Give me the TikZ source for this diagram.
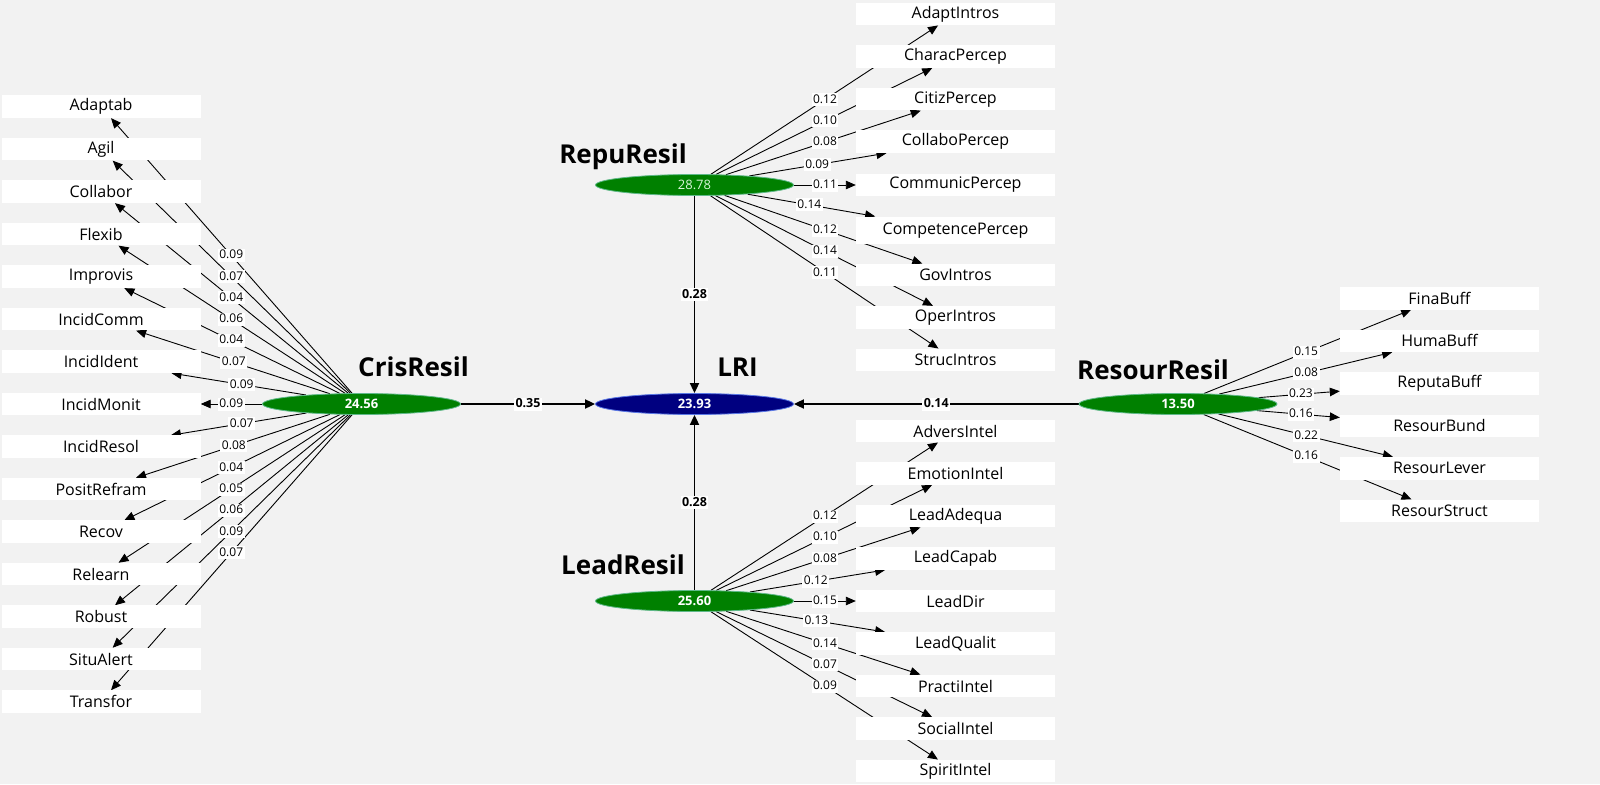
\documentclass[tikz,border=0pt]{standalone}
\usepackage{fontspec}
\setmainfont{Open Sans}
\usetikzlibrary{arrows.meta,calc,shapes.geometric}
\pgfdeclarelayer{bg}
\pgfdeclarelayer{edges}
\pgfsetlayers{bg,edges,main}
\definecolor{bgc}{HTML}{F2F2F2}
\definecolor{lvgreen}{HTML}{008000}
\definecolor{lvgreenedge}{HTML}{5FB98A}
\definecolor{lvnavy}{HTML}{000080}
\definecolor{lvnavyedge}{HTML}{5A78E6}
\definecolor{palegreen}{HTML}{D8F5D8}
\tikzset{
  ind/.style={rectangle,fill=white,minimum width=199pt,minimum height=22.5pt,inner sep=0pt,
    font=\fontsize{16}{18}\selectfont},
  lv/.style={ellipse,fill=lvgreen,draw=lvgreenedge,line width=0.8pt,minimum width=198pt,
    minimum height=21pt,inner sep=0pt,text=white,font=\fontsize{13}{15}\selectfont\bfseries},
  lvname/.style={inner sep=0pt,font=\fontsize{26}{30}\selectfont\bfseries},
  wlab/.style={fill=white,inner xsep=1.5pt,inner ysep=0pt,text height=10pt,text depth=3pt,
    font=\fontsize{12}{14}\selectfont},
  plab/.style={fill=white,inner xsep=1.5pt,inner ysep=0pt,text height=10pt,text depth=3pt,
    font=\fontsize{12.5}{14}\selectfont\bfseries},
  indarr/.style={draw=black,line width=0.9pt,-{Triangle[length=10pt,width=8.5pt]}},
  patharr/.style={draw=black,line width=1.8pt,-{Triangle[length=10pt,width=9pt]}}
}
\def\crislist{Adaptab/106.7/0.09/0.5/22.5, Agil/149.2/0.07/0.5/22.5, Collabor/191.7/0.04/0.5/22.5,
 Flexib/234.2/0.06/0.5/22.5, Improvis/276.7/0.04/0.5/22.5, IncidComm/319.2/0.07/0.49/22.5,
 IncidIdent/361.7/0.09/0.46/22.5, IncidMonit/404/0.09/0.5/22.5, IncidResol/446.7/0.07/0.46/22.5,
 PositRefram/489.2/0.08/0.49/22.5, Recov/531.7/0.04/0.5/22.5, Relearn/574.2/0.05/0.5/22.5,
 Robust/616.7/0.06/0.5/22.5, SituAlert/659.2/0.09/0.5/22.5, Transfor/701.7/0.07/0.5/22.5}
\def\repulist{AdaptIntros/14/0.12/0.5/22.5, CharacPercep/56.6/0.10/0.5/22.5, CitizPercep/99.2/0.08/0.5/22.5,
 CollaboPercep/141.7/0.09/0.47/22.5, CommunicPercep/185/0.11/0.5/22.5,
 CompetencePercep/230.3/0.14/0.44/27.5, GovIntros/275/0.12/0.5/22.5, OperIntros/317.3/0.14/0.5/22.5,
 StrucIntros/360/0.11/0.5/22.5}
\def\leadlist{AdversIntel/431/0.12/0.5/22.5, EmotionIntel/473.5/0.10/0.5/22.5, LeadAdequa/516/0.08/0.5/22.5,
 LeadCapab/558.5/0.12/0.465/22.5, LeadDir/601/0.15/0.5/22.5, LeadQualit/643.5/0.13/0.467/22.5,
 PractiIntel/686/0.14/0.5/22.5, SocialIntel/728.5/0.07/0.5/22.5, SpiritIntel/771/0.09/0.5/22.5}
\def\resourlist{FinaBuff/298.3/0.15/0.49/22.5, HumaBuff/340.8/0.08/0.49/22.5, ReputaBuff/383.3/0.23/0.47/22.5,
 ResourBund/425.8/0.16/0.47/22.5, ResourLever/468.3/0.22/0.49/22.5, ResourStruct/510.8/0.16/0.49/22.5}
\begin{document}
\begin{tikzpicture}[x=1pt,y=-1pt]
\useasboundingbox (0,0) rectangle (1600,784);
\begin{pgfonlayer}{bg}
\fill[bgc] (0,0) rectangle (1600,784);
\end{pgfonlayer}
% latent variables
\node[lv] (CrisResil) at (361.5,404) {24.56};
\node[lv,fill=lvnavy,draw=lvnavyedge] (LRI) at (694.5,404) {23.93};
\node[lv,font=\fontsize{13}{15}\selectfont,text=palegreen] (RepuResil) at (694.5,185) {28.78};
\node[lv] (LeadResil) at (694.5,601) {25.60};
\node[lv] (ResourResil) at (1178,404) {13.50};
% names
\node[lvname] (nmCris) at (413.5,367) {CrisResil};
\node[lvname] (nmLRI) at (737.5,367) {LRI};
\node[lvname] (nmRepu) at (623,157) {RepuResil};
\node[lvname] (nmLead) at (623,565) {LeadResil};
\node[lvname] (nmResour) at (1153,369.5) {ResourResil};
% indicators
\foreach \n/\y/\w/\t/\h in \crislist {\node[ind,minimum height=\h pt] (\n) at (101,\y) {\n};}
\foreach \n/\y/\w/\t/\h in \repulist {\node[ind,minimum height=\h pt] (\n) at (955.5,\y) {\n};}
\foreach \n/\y/\w/\t/\h in \leadlist {\node[ind,minimum height=\h pt] (\n) at (955.5,\y) {\n};}
\foreach \n/\y/\w/\t/\h in \resourlist {\node[ind,minimum height=\h pt] (\n) at (1439.5,\y) {\n};}
% edges
\begin{pgfonlayer}{edges}
\foreach \n/\y/\w/\t/\h in \crislist {\draw[indarr] (CrisResil) -- (\n);}
\foreach \n/\y/\w/\t/\h in \repulist {\draw[indarr] (RepuResil) -- (\n);}
\foreach \n/\y/\w/\t/\h in \leadlist {\draw[indarr] (LeadResil) -- (\n);}
\foreach \n/\y/\w/\t/\h in \resourlist {\draw[indarr] (ResourResil) -- (\n);}
\draw[patharr] (CrisResil) -- (LRI);
\draw[patharr] (ResourResil) -- (LRI);
\draw[patharr] (RepuResil) -- (LRI);
\draw[patharr] (LeadResil) -- (LRI);
\end{pgfonlayer}
% weight labels
\foreach \n/\y/\w/\t/\h in \crislist {\node[wlab] (lab\n) at ($(CrisResil.center)!\t!(\n.center)$) {\w};}
\foreach \n/\y/\w/\t/\h in \repulist {\node[wlab] (lab\n) at ($(RepuResil.center)!\t!(\n.center)$) {\w};}
\foreach \n/\y/\w/\t/\h in \leadlist {\node[wlab] (lab\n) at ($(LeadResil.center)!\t!(\n.center)$) {\w};}
\foreach \n/\y/\w/\t/\h in \resourlist {\node[wlab] (lab\n) at ($(ResourResil.center)!\t!(\n.center)$) {\w};}
% path labels
\node[plab] (labCris) at ($(CrisResil.center)!0.5!(LRI.center)$) {0.35};
\node[plab] (labResour) at ($(ResourResil.center)!0.5!(LRI.center)$) {0.14};
\node[plab] (labRepu) at ($(RepuResil.center)!0.5!(LRI.center)$) {0.28};
\node[plab] (labLead) at ($(LeadResil.center)!0.5!(LRI.center)$) {0.28};
\end{tikzpicture}
\end{document}
